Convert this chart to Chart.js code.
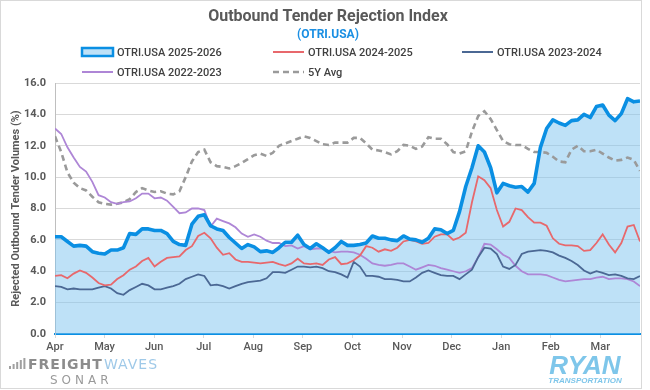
<!DOCTYPE html>
<html>
<head>
<meta charset="utf-8">
<script src="https://cdn.jsdelivr.net/npm/chart.js@4.4.1/dist/chart.umd.min.js"></script>
<style>
  html, body { margin: 0; padding: 0; background: #ffffff; }
  #wrap { position: relative; width: 650px; height: 390px; }
</style>
</head>
<body>
<div id="wrap"><canvas id="otriChart" width="650" height="390"></canvas></div>
<script>
// month ticks along the season (Apr -> Mar)
const MONTHS = ['Apr', 'May', 'Jun', 'Jul', 'Aug', 'Sep', 'Oct', 'Nov', 'Dec', 'Jan', 'Feb', 'Mar'];
const Y_TICKS = [0, 2, 4, 6, 8, 10, 12, 14, 16];

// values, one every ~4 days
const otri2526 = [
  6.2, 6.2, 5.9, 5.6, 5.65, 5.6, 5.25, 5.15, 5.1, 5.35,
  5.35, 5.5, 6.4, 6.35, 6.7, 6.7, 6.6, 6.6, 6.4, 5.9,
  5.7, 5.65, 7.0, 7.5, 7.6, 6.9, 6.7, 6.6, 6.15, 5.8,
  5.45, 5.7, 5.55, 5.25, 5.3, 5.2, 5.5, 5.85, 5.85, 6.3,
  5.7, 5.45, 5.75, 5.5, 5.2, 5.5, 5.9, 5.65, 5.65, 5.7,
  5.8, 6.25, 6.1, 6.1, 6.0, 5.95, 6.25, 6.05, 6.0, 5.85,
  6.1, 6.7, 6.65, 6.4, 6.6, 7.8, 9.4, 10.6, 12.0, 11.6,
  10.6, 9.0, 9.6, 9.45, 9.35, 9.4, 9.05, 9.6, 11.9, 13.1,
  13.65, 13.45, 13.3, 13.6, 13.65, 14.0, 13.8, 14.5, 14.6, 13.95,
  13.6, 14.05, 15.0, 14.8, 14.85
];
const otri2425 = [
  3.7, 3.75, 3.55, 3.85, 4.05, 3.9, 3.6, 3.25, 3.1, 3.15,
  3.5, 3.75, 4.1, 4.3, 4.65, 4.85, 4.3, 4.6, 4.85, 4.9,
  4.95, 5.35, 5.6, 6.25, 6.45, 6.1, 5.5, 5.05, 5.15, 4.75,
  4.6, 4.6, 4.55, 4.5, 4.55, 4.6, 4.45, 4.35, 4.5, 4.8,
  4.5, 4.45, 4.5, 4.4, 4.75, 4.9, 4.45, 4.5, 4.7, 5.0,
  5.6, 5.5, 5.25, 5.4, 5.3, 5.5, 5.9, 6.0, 5.9, 5.75,
  5.8, 6.2, 6.35, 6.35, 6.0, 6.15, 6.45, 8.4, 10.05, 9.8,
  9.3, 7.9, 6.85, 7.15, 8.0, 7.9, 7.45, 7.1, 7.1, 6.9,
  6.1, 5.75, 5.65, 5.65, 5.6, 5.3, 5.35, 5.8, 6.35, 5.7,
  5.2, 5.8, 6.85, 6.95, 5.9
];
const otri2324 = [
  3.05, 3.0, 2.85, 2.9, 2.85, 2.85, 2.85, 2.95, 3.05, 2.9,
  2.6, 2.5, 2.8, 3.0, 3.2, 3.1, 2.85, 2.85, 2.95, 3.05,
  3.2, 3.5, 3.65, 3.8, 3.7, 3.1, 3.15, 3.05, 2.9, 3.05,
  3.2, 3.3, 3.35, 3.4, 3.55, 3.95, 3.95, 3.9, 4.1, 4.3,
  4.3, 4.25, 4.3, 4.2, 4.0, 3.95, 3.8, 3.6, 4.6, 4.3,
  3.7, 3.7, 3.65, 3.5, 3.5, 3.45, 3.35, 3.35, 3.6, 3.9,
  4.05, 3.9, 3.75, 3.7, 3.7, 3.5, 3.8, 4.1, 4.9, 5.5,
  5.45, 5.1, 4.3, 4.15, 4.4, 5.1, 5.25, 5.3, 5.35, 5.3,
  5.2, 5.0, 4.85, 4.65, 4.4, 4.05, 3.85, 4.0, 3.9, 3.75,
  3.8, 3.7, 3.55, 3.5, 3.7
];
const otri2223 = [
  13.1, 12.75, 11.9, 11.25, 10.65, 10.35, 9.7, 8.85, 8.7, 8.4,
  8.3, 8.4, 8.45, 8.65, 8.95, 8.95, 8.65, 8.7, 8.5, 8.1,
  7.7, 7.75, 8.0, 8.0, 7.9, 6.85, 7.35, 7.2, 7.05, 6.8,
  6.4, 6.2, 6.35, 6.2, 5.95, 5.8, 5.8, 5.6, 5.65, 5.45,
  5.6, 5.4, 5.45, 5.45, 5.3, 5.2, 5.25, 5.25, 5.2, 5.05,
  4.8, 4.5, 4.4, 4.35, 4.4, 4.5, 4.5, 4.3, 4.1, 4.25,
  4.4, 4.35, 4.2, 4.1, 4.0, 3.9, 4.0, 4.2, 4.9, 5.75,
  5.7, 5.4, 5.05, 4.85, 4.35, 4.0, 3.8, 3.8, 3.8, 3.75,
  3.6, 3.45, 3.35, 3.4, 3.45, 3.5, 3.5, 3.6, 3.65, 3.5,
  3.55, 3.55, 3.5, 3.35, 3.05
];
const avg5y = [
  12.6, 11.6, 10.3, 9.65, 9.3, 9.15, 8.75, 8.4, 8.3, 8.25,
  8.3, 8.4, 8.6, 9.05, 9.3, 9.15, 9.05, 9.1, 8.95, 8.9,
  9.1, 10.0, 11.0, 11.6, 11.75, 10.95, 10.7, 10.65, 10.55, 10.7,
  10.9, 11.15, 11.4, 11.5, 11.35, 11.55, 12.0, 12.15, 12.3, 12.45,
  12.6, 12.5, 12.3, 12.1, 12.05, 12.2, 12.2, 12.2, 12.5, 12.5,
  12.15, 11.75, 11.7, 11.6, 11.45, 11.65, 12.05, 12.0, 11.8, 11.95,
  12.55, 12.45, 12.45, 12.1, 11.6, 11.5, 11.65, 12.9, 13.9, 14.2,
  13.7, 13.0, 12.3, 12.1, 12.05, 12.05, 11.8, 11.6, 11.6, 11.55,
  11.3, 11.0, 10.95, 11.75, 12.0, 11.65, 11.65, 11.75, 11.5, 11.25,
  11.05, 11.1, 11.25, 11.1, 10.4
];

const FONT = 'Roboto, "Noto Sans", sans-serif';
const X_MAX = 11.8; // data stops a little before the end of March

function toPoints(values) {
    const step = X_MAX / (values.length - 1);
    return values.map(function (v, i) {
        return { x: i * step, y: v };
    });
}

// legend grid like the Excel one: [column, row]
const LEGEND_COLS = [82, 273, 462];
const LEGEND_ROWS = [52, 72];

const chromePlugin = {
    id: 'chrome',
    afterDraw: function (chart) {
        const c = chart.ctx;
        c.save();

        // outer frame
        c.strokeStyle = '#d9d9d9';
        c.lineWidth = 1;
        c.strokeRect(0.5, 0.5, 641, 388);

        // title + subtitle
        c.textAlign = 'center';
        c.textBaseline = 'middle';
        c.fillStyle = '#595959';
        c.font = 'bold 16px ' + FONT;
        c.fillText('Outbound Tender Rejection Index', 328, 17);
        c.fillStyle = '#1a8fe3';
        c.font = 'bold 12px ' + FONT;
        c.fillText('(OTRI.USA)', 328, 35);

        // legend
        c.textAlign = 'left';
        c.font = '500 11px ' + FONT;
        chart.data.datasets.forEach(function (ds) {
            const x = LEGEND_COLS[ds.legendPos[0]];
            const y = LEGEND_ROWS[ds.legendPos[1]];
            if (ds.fill) {
                c.fillStyle = '#bee1f7';
                c.fillRect(x, y - 4, 31, 8);
                c.strokeStyle = ds.borderColor;
                c.lineWidth = 2.5;
                c.strokeRect(x, y - 4, 31, 8);
            } else {
                c.strokeStyle = ds.borderColor;
                c.lineWidth = Math.max(ds.borderWidth, 2);
                c.setLineDash(ds.borderDash || []);
                c.beginPath();
                c.moveTo(x, y);
                c.lineTo(x + 31, y);
                c.stroke();
                c.setLineDash([]);
            }
            c.fillStyle = '#404040';
            c.fillText(ds.label, x + 35, y + 1);
        });

        // FreightWaves SONAR mark
        c.fillStyle = '#a0a0a0';
        [3, 5, 7, 9, 11].forEach(function (h, k) {
            c.fillRect(9 + k * 3.6, 369 - h, 2, h);
        });
        c.textBaseline = 'alphabetic';
        c.letterSpacing = '1px';
        c.fillStyle = '#8c8c8c';
        c.font = 'bold 14px "DejaVu Sans"';
        c.fillText('FREIGHT', 28, 369);
        c.fillStyle = '#9fc9e8';
        c.font = '14px "DejaVu Sans"';
        c.fillText('WAVES', 104, 369);
        c.letterSpacing = '4px';
        c.fillStyle = '#9a9a9a';
        c.font = '12px "DejaVu Sans"';
        c.fillText('SONAR', 50, 384);

        // Ryan Transportation mark
        c.letterSpacing = '0px';
        c.textAlign = 'center';
        c.fillStyle = '#7ec6ea';
        c.font = 'italic bold 26px "Liberation Sans"';
        c.fillText('RYAN', 585, 374);
        c.font = 'italic bold 8px "Liberation Sans"';
        c.fillText('TRANSPORTATION', 585, 383);

        c.restore();
    }
};

const ctx = document.getElementById('otriChart').getContext('2d');

new Chart(ctx, {
    type: 'line',
    data: {
        datasets: [
            {
                label: 'OTRI.USA 2025-2026',
                data: toPoints(otri2526),
                borderColor: '#0a8fe3',
                backgroundColor: 'rgba(125,195,240,0.5)',
                borderWidth: 3.6,
                borderJoinStyle: 'round',
                fill: 'origin',
                legendPos: [0, 0]
            },
            {
                label: 'OTRI.USA 2024-2025',
                data: toPoints(otri2425),
                borderColor: '#e8686c',
                borderWidth: 1.8,
                fill: false,
                legendPos: [1, 0]
            },
            {
                label: 'OTRI.USA 2023-2024',
                data: toPoints(otri2324),
                borderColor: '#4b6894',
                borderWidth: 1.8,
                fill: false,
                legendPos: [2, 0]
            },
            {
                label: 'OTRI.USA 2022-2023',
                data: toPoints(otri2223),
                borderColor: '#ae86d6',
                borderWidth: 1.8,
                fill: false,
                legendPos: [0, 1]
            },
            {
                label: '5Y Avg',
                data: toPoints(avg5y),
                borderColor: '#9a9a9a',
                borderWidth: 2.6,
                borderDash: [6, 4],
                fill: false,
                legendPos: [1, 1]
            }
        ]
    },
    options: {
        responsive: false,
        animation: false,
        elements: {
            point: { radius: 0 },
            line: { tension: 0 }
        },
        layout: {
            padding: { top: 83, left: 4, right: 10, bottom: 26 }
        },
        plugins: {
            legend: { display: false },
            title: { display: false },
            tooltip: { enabled: false },
            filler: { drawTime: 'beforeDatasetsDraw' }
        },
        scales: {
            x: {
                type: 'linear',
                min: 0,
                max: X_MAX,
                afterBuildTicks: function (scale) {
                    scale.ticks = MONTHS.map(function (m, k) {
                        return { value: k };
                    });
                },
                afterFit: function (scale) {
                    scale.height = 30;
                },
                grid: {
                    drawOnChartArea: false,
                    tickLength: 4,
                    color: '#d9d9d9'
                },
                border: { color: '#0a8fe3', width: 2 },
                ticks: {
                    autoSkip: false,
                    maxRotation: 0,
                    padding: 3,
                    color: '#595959',
                    font: { family: FONT, size: 11, weight: '500' },
                    callback: function (value) {
                        return MONTHS[value];
                    }
                }
            },
            y: {
                min: 0,
                max: 16,
                afterBuildTicks: function (scale) {
                    scale.ticks = Y_TICKS.map(function (v) {
                        return { value: v };
                    });
                },
                afterFit: function (scale) {
                    scale.width = 51;
                },
                grid: {
                    drawTicks: false,
                    color: function (c) {
                        return c.tick && c.tick.value === 0 ? 'rgba(0,0,0,0)' : '#d9d9d9';
                    }
                },
                border: { color: '#bfbfbf' },
                ticks: {
                    padding: 9,
                    color: '#595959',
                    font: { family: FONT, size: 11, weight: 'bold' },
                    callback: function (value) {
                        return Number(value).toFixed(1);
                    }
                },
                title: {
                    display: true,
                    text: 'Rejected Outbound Tender Volumes (%)',
                    color: '#595959',
                    padding: { top: 6, bottom: 0 },
                    font: { family: FONT, size: 11, weight: 'bold' }
                }
            }
        }
    },
    plugins: [chromePlugin]
});
</script>
</body>
</html>
